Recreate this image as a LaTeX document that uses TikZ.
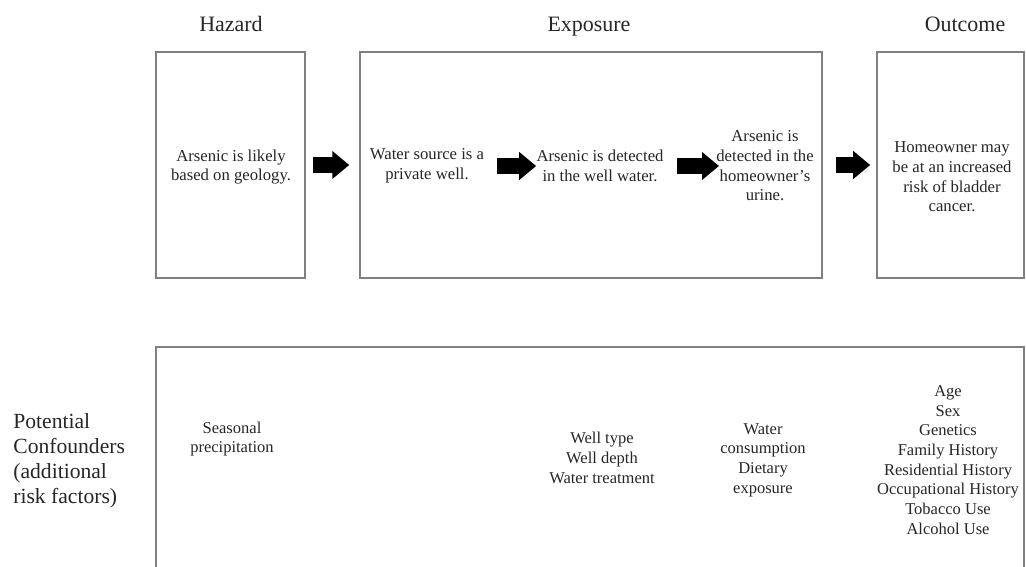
\documentclass[tikz,border=0pt]{standalone}
\usepackage{fontspec}
\setmainfont{Liberation Serif}
\usetikzlibrary{arrows.meta, positioning}
\definecolor{cFrame}{HTML}{808080}
\definecolor{cText}{HTML}{262626}
\tikzset{
  stagebox/.style={draw=cFrame, line width=0.9pt, inner sep=0pt},
  headlabel/.style={font=\fontsize{12.5}{14}\selectfont, text=cText, anchor=base},
  steptext/.style={font=\fontsize{9.5}{11.2}\selectfont, text=cText,
    align=center, inner sep=0pt},
  factortext/.style={font=\fontsize{9.4}{11.2}\selectfont, text=cText,
    align=center, inner sep=0pt},
  sidelabel/.style={font=\fontsize{12.3}{14.2}\selectfont, text=cText,
    align=left, inner sep=0pt, anchor=west},
  fatarrow/.style={-{Triangle[length=0.34cm, width=0.54cm]},
    line width=0.32cm, draw=black},
}

\begin{document}
\begin{tikzpicture}[x=0.02cm, y=-0.02cm]
  \useasboundingbox (0,0) rectangle (1026,567);
  \clip (0,0) rectangle (1026,567);

  % ----------------------------------------------------------------
  % Top row: hazard -> exposure -> outcome
  % ----------------------------------------------------------------
  \node[stagebox, minimum width=2.98cm, minimum height=4.52cm] (hazard)   at (230.5,165) {};
  \node[stagebox, minimum width=9.24cm, minimum height=4.52cm] (exposure) at (591,165)   {};
  \node[stagebox, minimum width=2.94cm, minimum height=4.52cm] (outcome)  at (950.5,165) {};

  \node[headlabel] (hHazard)   at (231,32) {Hazard};
  \node[headlabel] (hExposure) at (589,32) {Exposure};
  \node[headlabel] (hOutcome)  at (965,32) {Outcome};

  \node[steptext] (geology) at (231,167) {Arsenic is likely\\ based on geology.};
  \node[steptext] (well)    at (427,166) {Water source is a\\ private well.};
  \node[steptext] (water)   at (600,166) {Arsenic is detected\\ in the well water.};
  \node[steptext] (urine)   at (765,166) {Arsenic is\\ detected in the\\ homeowner's\\ urine.};
  \node[steptext] (cancer)  at (952,177) {Homeowner may\\ be at an increased\\ risk of bladder\\ cancer.};

  % ----------------------------------------------------------------
  % Block arrows
  % ----------------------------------------------------------------
  \draw[fatarrow, shorten <=0.14cm, shorten >=0.2cm] (hazard) -- (exposure);
  \draw[fatarrow, shorten <=0.26cm] (well) -- (water);
  \draw[fatarrow, shorten <=0.27cm, shorten >=-0.06cm] (water) -- (urine);
  \draw[fatarrow, shorten <=0.26cm, shorten >=0.12cm] (exposure) -- (outcome);

  % ----------------------------------------------------------------
  % Bottom row: potential confounders (box runs off the page)
  % ----------------------------------------------------------------
  \node[stagebox, minimum width=17.36cm, minimum height=5.2cm, anchor=north] (confound) at (590,346) {};

  \node[sidelabel] (confLabel) at (13,461)
    {Potential\\ Confounders\\ (additional\\ risk factors)};

  \node[factortext] (precip)   at (232,439) {Seasonal\\ precipitation};
  \node[factortext] (wellfac)  at (602,458) {Well type\\ Well depth\\ Water treatment};
  \node[factortext] (intake)   at (763,460) {Water\\ consumption\\ Dietary\\ exposure};
  \node[factortext] (personal) at (948,460)
    {Age\\ Sex\\ Genetics\\ Family History\\ Residential History\\
     Occupational History\\ Tobacco Use\\ Alcohol Use};

\end{tikzpicture}
\end{document}
